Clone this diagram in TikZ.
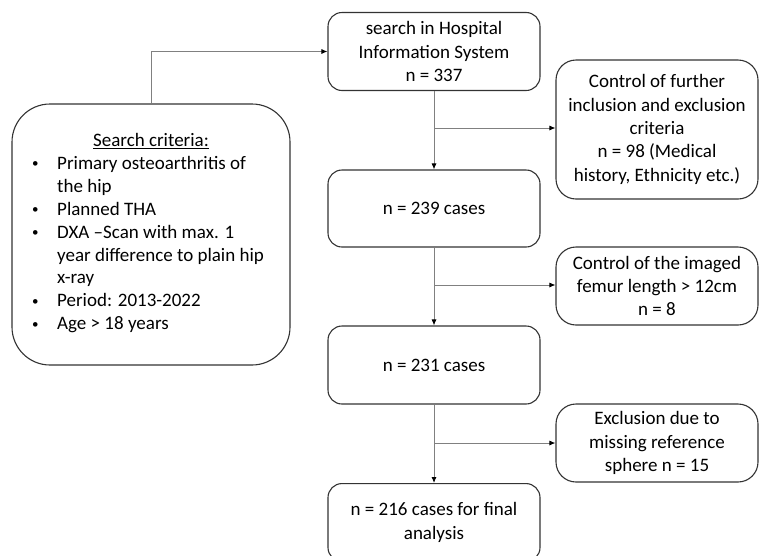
\documentclass[tikz,border=0pt]{standalone}
\usepackage{fontspec}
\setmainfont{Carlito}
\usetikzlibrary{arrows.meta,positioning}
\newcommand{\smbul}{\makebox[27pt][l]{\hspace{2pt}\raisebox{1.5pt}{\fontsize{13pt}{13pt}\selectfont\textbullet}}}
\tikzset{
  box/.style={draw=black!80, line width=1.1pt, rounded corners=14pt, align=center,
    minimum width=212pt, minimum height=78pt, inner sep=2pt,
    font=\fontsize{19pt}{23.3pt}\selectfont},
  sidebox/.style={box, rounded corners=20pt, minimum width=202pt},
  conn/.style={draw=black!50, line width=0.9pt, -{Latex[length=6pt,width=5pt,color=black]}},
}
\begin{document}
\begin{tikzpicture}[x=1pt,y=-1pt]
\useasboundingbox (0,0) rectangle (759,555);
\begin{scope}
\clip (0,0) rectangle (759,555);
\node[box] (top) at (434,51.5) {search in Hospital\\Information System\\n = 337};
\node[box, minimum height=77pt] (n239) at (434,208.5) {n = 239 cases};
\node[box] (n231) at (434,365) {n = 231 cases};
\node[box, anchor=north] (final) at (434,483) {n = 216 cases for final\\analysis};
\node[sidebox, minimum height=139pt] (r1) at (657,129.5) {Control of further\\inclusion and exclusion\\criteria\\n = 98 (Medical\\history, Ethnicity etc.)};
\node[sidebox] (r2) at (657,286) {Control of the imaged\\femur length > 12cm\\n = 8};
\node[sidebox] (r3) at (657,443) {Exclusion due to\\missing reference\\sphere n = 15};
\node[box, rounded corners=38pt, minimum width=278pt, minimum height=261pt] (crit) at (151,234.5) {};
\node[font=\fontsize{19pt}{22.9pt}\selectfont, anchor=north, inner sep=0pt] (crith) at (151,133) {\underline{Search criteria:}};
\node[font=\fontsize{19pt}{22.9pt}\selectfont, anchor=north west, align=left, inner sep=0pt] (critl) at (30,156)
{\smbul Primary osteoarthritis of\\
\hspace*{27pt}the hip\\
\smbul Planned THA\\
\smbul DXA –Scan with max. 1\\
\hspace*{27pt}year difference to plain hip\\
\hspace*{27pt}x-ray\\
\smbul Period: 2013-2022\\
\smbul Age > 18 years};
\coordinate (b1) at (434,128);
\coordinate (b2) at (434,285);
\coordinate (b3) at (434,443);
\draw[conn] (crit.north) |- (top.west);
\draw[conn] (top.south) -- (n239.north);
\draw[conn] (n239.south) -- (n231.north);
\draw[conn] (n231.south) -- (final.north);
\draw[conn] (b1) -- (b1 -| r1.west);
\draw[conn] (b2) -- (b2 -| r2.west);
\draw[conn] (b3) -- (b3 -| r3.west);
\end{scope}
\end{tikzpicture}
\end{document}
